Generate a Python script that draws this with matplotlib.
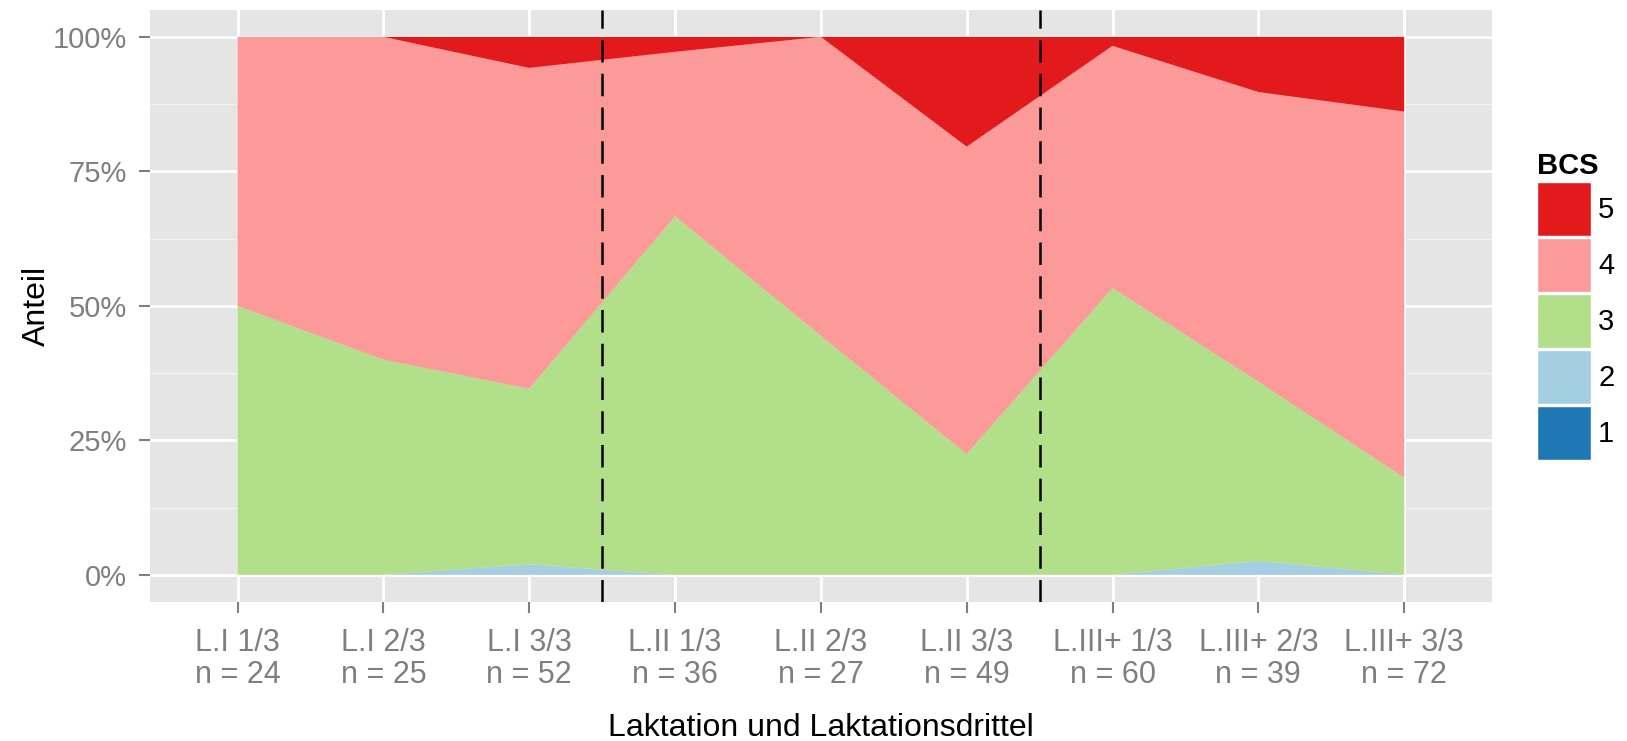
import matplotlib
matplotlib.use("Agg")
import matplotlib.pyplot as plt
import matplotlib.patches as mpatches
import numpy as np

plt.rcParams['font.family'] = ['Liberation Sans', 'DejaVu Sans']

# groups on the x axis and group sizes
groups = ["L.I 1/3", "L.I 2/3", "L.I 3/3",
          "L.II 1/3", "L.II 2/3", "L.II 3/3",
          "L.III+ 1/3", "L.III+ 2/3", "L.III+ 3/3"]
n_total = [24, 25, 52, 36, 27, 49, 60, 39, 72]

# animals per BCS class in each group
bcs1 = [0, 0, 0, 0, 0, 0, 0, 0, 0]
bcs2 = [0, 0, 1, 0, 0, 0, 0, 1, 0]
bcs3 = [12, 10, 17, 24, 12, 11, 32, 13, 13]
bcs4 = [12, 15, 31, 11, 15, 28, 27, 21, 49]
bcs5 = [0, 0, 3, 1, 0, 10, 1, 4, 10]

bcs_levels = ["1", "2", "3", "4", "5"]
bcs_colors = ["#1F78B4", "#A6CEE3", "#B2DF8A", "#FB9A99", "#E31A1C"]

# positions between lactations
lactation_breaks = [2.5, 5.5]

W, H = 1627, 741
fig = plt.figure(figsize=(W / 100, H / 100), dpi=100)
ax = fig.add_axes([150 / W, 1 - 601.7 / H, (1491.7 - 150) / W, (601.7 - 10) / H])

x = np.arange(len(groups))
n = np.array(n_total, dtype=float)
shares = [np.array(v) / n for v in (bcs1, bcs2, bcs3, bcs4, bcs5)]

ax.set_facecolor("#E5E5E5")
ax.stackplot(x, *shares, colors=bcs_colors, linewidth=0, zorder=2)

for b in lactation_breaks:
    ax.axvline(b, color="black", linewidth=1.8, linestyle=(0, (9, 4.5)), zorder=3)

ax.set_xlim(-0.6, len(groups) - 0.4)
ax.set_ylim(-0.05, 1.05)

ax.set_xticks(x)
ax.set_xticklabels([f"{g}\nn = {k}" for g, k in zip(groups, n_total)],
                   fontsize=22, linespacing=1.1)
ax.set_yticks([0, 0.25, 0.5, 0.75, 1.0])
ax.set_yticklabels(["0%", "25%", "50%", "75%", "100%"], fontsize=21)
ax.set_yticks([0.125, 0.375, 0.625, 0.875], minor=True)

ax.grid(which="major", color="white", linewidth=2)
ax.grid(which="minor", axis="y", color="#F2F2F2", linewidth=1)
ax.set_axisbelow(True)

ax.tick_params(axis="both", which="major", colors="#7F7F7F",
               length=8, width=1.5)
ax.tick_params(axis="x", which="major", pad=11)
ax.tick_params(axis="y", which="major", pad=8.5)
ax.tick_params(axis="both", which="minor", length=0)
for s in ax.spines.values():
    s.set_visible(False)

fig.text(821 / W, 1 - 728 / H, "Laktation und Laktationsdrittel",
         fontsize=23, ha="center", va="center")
fig.text(37 / W, 1 - 306 / H, "Anteil", fontsize=23, rotation=90,
         ha="center", va="center")

handles = [mpatches.Patch(facecolor=c, edgecolor="white", linewidth=1)
           for c in bcs_colors][::-1]
leg = fig.legend(handles, bcs_levels[::-1], title="BCS",
                 loc="upper left", bbox_to_anchor=(1537 / W, 1 - 152 / H),
                 frameon=False, fontsize=21, handlelength=1.85,
                 handleheight=2.45, labelspacing=0.08, handletextpad=0.25,
                 borderpad=0, borderaxespad=0, alignment="left")
leg.get_title().set_fontweight("bold")
leg.get_title().set_fontsize(21)

fig.savefig("out.png", dpi=100)
